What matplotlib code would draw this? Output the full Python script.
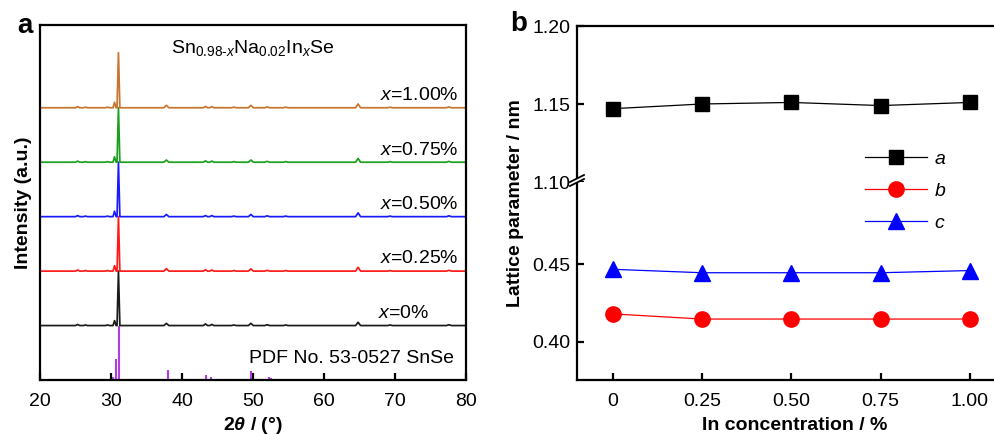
import matplotlib
matplotlib.use("Agg")
import matplotlib.pyplot as plt
from matplotlib.patches import Polygon

plt.rcParams['font.family'] = ['Liberation Sans', 'DejaVu Sans']
plt.rcParams['mathtext.fontset'] = 'custom'
plt.rcParams['mathtext.rm'] = 'Liberation Sans'
plt.rcParams['mathtext.it'] = 'Liberation Sans:italic'
plt.rcParams['mathtext.bf'] = 'Liberation Sans:bold'
plt.rcParams['mathtext.bfit'] = 'Liberation Sans:italic:bold'
plt.rcParams['axes.linewidth'] = 1.6

# ---------------- data: panel a (XRD) ----------------
# peak positions (2theta) shared by every sample
peak_pos = [25.3, 26.4, 29.5, 30.5, 31.05, 37.8, 43.3, 44.2, 47.3, 49.7,
            52.0, 54.6, 64.8, 69.3, 77.6]
# peak heights (one baseline spacing = 1.0)
heights_0 = [0.02, 0.01, 0.01, 0.09, 1.00, 0.04, 0.03, 0.02, 0.01, 0.04,
             0.015, 0.01, 0.06, 0.01, 0.015]
heights_025 = [0.02, 0.01, 0.01, 0.10, 1.00, 0.045, 0.025, 0.02, 0.01, 0.04,
               0.015, 0.01, 0.07, 0.01, 0.015]
heights_050 = [0.02, 0.01, 0.01, 0.10, 1.00, 0.04, 0.02, 0.02, 0.01, 0.04,
               0.015, 0.01, 0.07, 0.01, 0.015]
heights_075 = [0.02, 0.01, 0.01, 0.10, 1.00, 0.04, 0.025, 0.02, 0.01, 0.04,
               0.015, 0.01, 0.07, 0.01, 0.015]
heights_100 = [0.02, 0.01, 0.01, 0.10, 1.01, 0.045, 0.025, 0.02, 0.01, 0.045,
               0.015, 0.01, 0.07, 0.01, 0.015]
peak_hw = [0.3, 0.3, 0.3, 0.22, 0.2, 0.35, 0.3, 0.3, 0.35, 0.35,
           0.35, 0.35, 0.35, 0.35, 0.35]

sample_labels = ["$x$=0%", "$x$=0.25%", "$x$=0.50%", "$x$=0.75%", "$x$=1.00%"]
sample_heights = [heights_0, heights_025, heights_050, heights_075, heights_100]
sample_colors = ["#1a1a1a", "#ff1a1a", "#1a1aff", "#1aa01a", "#c8742f"]
label_x = [74.9, 79.0, 79.0, 79.0, 79.0]

# PDF No. 53-0527 SnSe reference sticks
pdf_pos = [30.35, 30.65, 31.1, 33.35, 38.05, 43.45, 44.05, 47.6, 49.7, 52.25, 52.55]
pdf_int = [0.06, 0.39, 1.0, 0.02, 0.18, 0.09, 0.06, 0.02, 0.17, 0.06, 0.03]

# ---------------- data: panel b (lattice parameters) ----------------
conc = [0, 0.25, 0.50, 0.75, 1.00]
conc_labels = ["0", "0.25", "0.50", "0.75", "1.00"]
lat_a = [1.147, 1.150, 1.151, 1.149, 1.151]
lat_b = [0.418, 0.4147, 0.4147, 0.4147, 0.4147]
lat_c = [0.4466, 0.4444, 0.4444, 0.4444, 0.4458]


def profile(pos, hts, hws):
    # build a stick-like line profile from the peak list
    xs = [20.0]
    ys = [0.0]
    for p, h, w in zip(pos, hts, hws):
        xs += [p - w, p, p + w]
        ys += [0.0, h, 0.0]
    xs.append(80.0)
    ys.append(0.0)
    return xs, ys


W, H = 995, 434
fig = plt.figure(figsize=(W / 100, H / 100), dpi=100)

# ======================= panel a =======================
ax1 = fig.add_axes([40 / W, 1 - 380 / H, 426 / W, 355 / H])
for i, (hts, col, lab, lx) in enumerate(zip(sample_heights, sample_colors,
                                            sample_labels, label_x)):
    off = i + 1
    xs, ys = profile(peak_pos, hts, peak_hw)
    ax1.plot(xs, [y + off for y in ys], color=col, lw=1.25)
    ax1.text(lx, off + 0.14, lab, ha='right', va='baseline', fontsize=14)

ax1.vlines(pdf_pos, 0, pdf_int, color="#b23ee0", lw=1.5)
ax1.text(78.3, 0.31, "PDF No. 53-0527 SnSe", ha='right', va='baseline', fontsize=14)
ax1.text(50, 6.01, r"Sn$_{0.98\text{-}x}$Na$_{0.02}$In$_x$Se", ha='center',
         va='baseline', fontsize=14)

ax1.set_xlim(20, 80)
ax1.set_ylim(0, 6.52)
ax1.set_yticks([])
ax1.set_xticks(range(20, 81, 10))
ax1.tick_params(axis='x', direction='in', length=5, width=1.6, labelsize=14, pad=9)
ax1.set_ylabel("Intensity (a.u.)", fontsize=14, fontweight='bold', labelpad=6)
fig.text(253 / W, 1 - 425 / H, r"$\mathbf{2}\mathbfit{\theta}$ / (°)", ha='center',
         va='center', fontsize=14, fontweight='bold')
fig.text(25 / W, 1 - 26 / H, "a", ha='center', va='center', fontsize=20,
         fontweight='bold')

# ======================= panel b (broken y axis) =======================
axt = fig.add_axes([577 / W, 1 - 182 / H, 1 - 577 / W, 156 / H])
axb = fig.add_axes([577 / W, 1 - 380 / H, 1 - 577 / W, 198 / H])

la, = axt.plot(conc, lat_a, color='black', lw=0.9, marker='s', ms=10,
               mfc='black', mec='black')
lb, = axb.plot(conc, lat_b, color='#ff0000', lw=0.9, marker='o', ms=11,
               mfc='#ff0000', mec='#ff0000')
lc, = axb.plot(conc, lat_c, color='#0000ff', lw=0.9, marker='^', ms=12,
               mfc='#0000ff', mec='#0000ff')

for ax in (axt, axb):
    ax.set_xlim(-0.1, 1.07)
    ax.spines['right'].set_visible(False)
    ax.tick_params(direction='in', length=5, width=1.6, labelsize=14)
    ax.tick_params(axis='y', pad=5)

axt.set_ylim(1.10, 1.20)
axt.set_yticks([1.10, 1.15, 1.20])
axt.set_yticklabels(["1.10", "1.15", "1.20"])
axt.spines['bottom'].set_visible(False)
axt.set_xticks([])

axb.set_ylim(0.3756, 0.5026)
axb.set_yticks([0.40, 0.45])
axb.set_yticklabels(["0.40", "0.45"])
axb.spines['top'].set_visible(False)
axb.set_xticks(conc)
axb.set_xticklabels(conc_labels)
axb.tick_params(axis='x', pad=9)

# break marks on the left spine
def fx(px):
    return px / W


def fy(py):
    return 1 - py / H


gap = Polygon([(fx(570), fy(186)), (fx(584), fy(179)), (fx(584), fy(175)),
               (fx(570), fy(182))], closed=True, transform=fig.transFigure,
              facecolor='white', edgecolor='none', zorder=10)
fig.add_artist(gap)
for dy in (0, 4):
    fig.add_artist(plt.Line2D([fx(570), fx(584)], [fy(182 + dy), fy(175 + dy)],
                              transform=fig.transFigure, color='black', lw=1.3,
                              zorder=11))

fig.legend([la, lb, lc], ["$a$", "$b$", "$c$"], loc='center left',
           bbox_to_anchor=(865 / W, fy(191)), bbox_transform=fig.transFigure,
           frameon=False, fontsize=14, handlelength=3.2, handletextpad=0.35,
           labelspacing=0.75, borderpad=0, borderaxespad=0)

fig.text(515 / W, fy(203), "Lattice parameter / nm", rotation=90, ha='center',
         va='center', fontsize=14, fontweight='bold')
fig.text(795 / W, fy(425), "In concentration / %", ha='center', va='center',
         fontsize=14, fontweight='bold')
fig.text(519 / W, fy(24), "b", ha='center', va='center', fontsize=20,
         fontweight='bold')

fig.savefig("out.png", dpi=100)
